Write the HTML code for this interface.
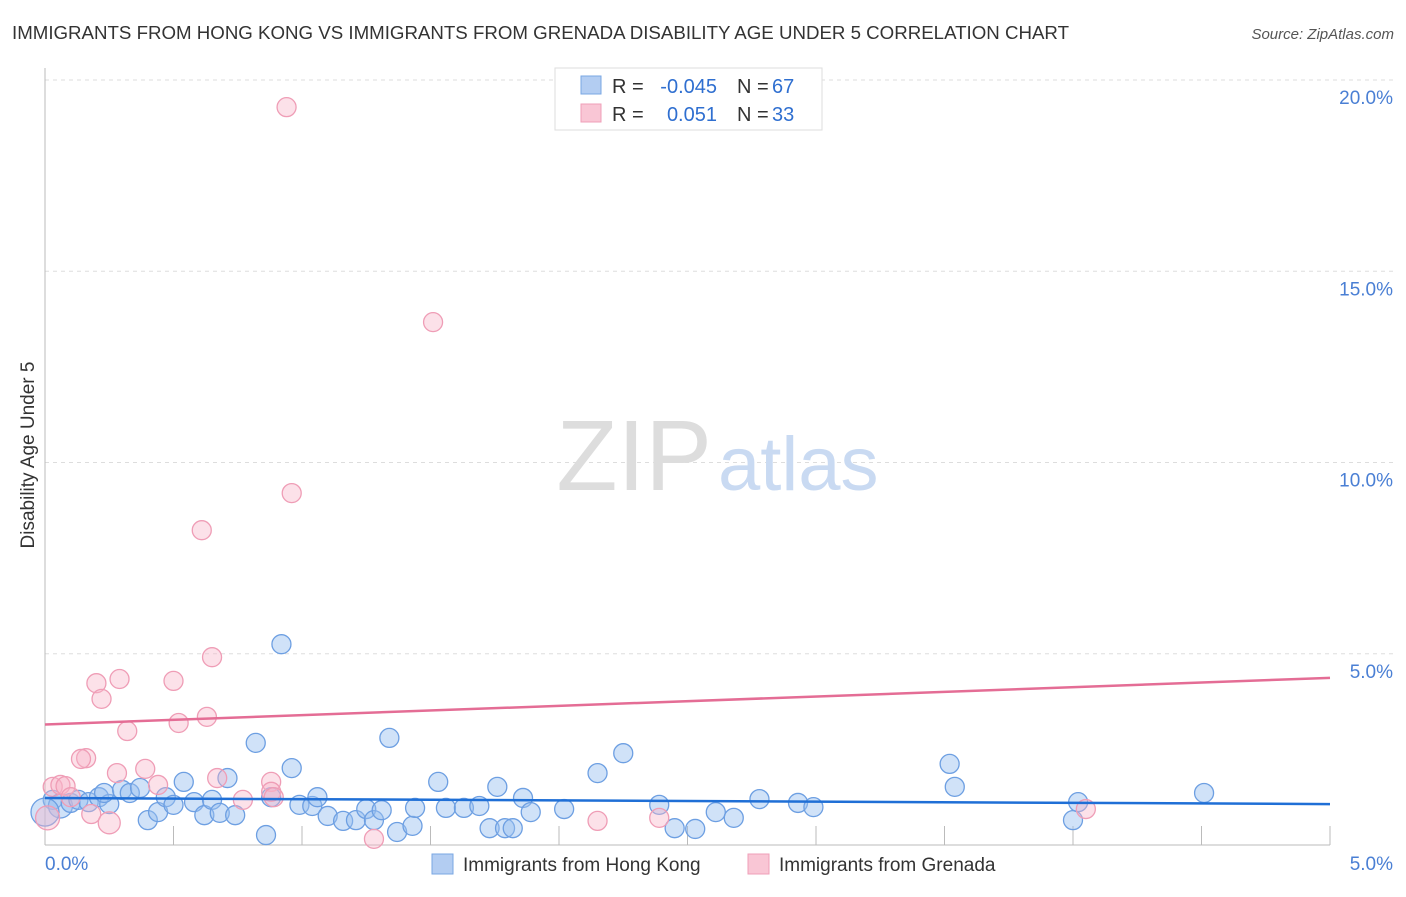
<!DOCTYPE html>
<html><head><meta charset="utf-8"><style>
body{margin:0;background:#fff;font-family:"Liberation Sans",sans-serif;}
svg text{font-family:"Liberation Sans",sans-serif;}
</style></head><body>
<svg width="1406" height="892" xmlns="http://www.w3.org/2000/svg">
<text x="12" y="39" font-size="18.7" fill="#333">IMMIGRANTS FROM HONG KONG VS IMMIGRANTS FROM GRENADA DISABILITY AGE UNDER 5 CORRELATION CHART</text>
<text x="1394" y="39" font-size="15" fill="#555" text-anchor="end" font-style="italic">Source: ZipAtlas.com</text>
<g id="grid"></g>
<text x="712" y="490" font-size="100" fill="#ddd" text-anchor="end" font-family="Liberation Serif">ZIP</text>
<text x="718" y="490" font-size="76" fill="#c9daf2">atlas</text>
<text transform="translate(34,455) rotate(-90)" font-size="19" fill="#333" text-anchor="middle">Disability Age Under 5</text>
<g id="pts"></g>
<g id="lines"></g>
<g>
<rect x="555" y="68" width="267" height="62" fill="#fff" stroke="#ddd"/>
<rect x="581" y="76" width="20" height="18" fill="#b3cdf2" stroke="#7aa7e3"/>
<rect x="581" y="104" width="20" height="18" fill="#f9c6d5" stroke="#ef9fb8"/>
<text x="612" y="93" font-size="20" fill="#333">R =</text>
<text x="717" y="93" font-size="20" fill="#2f6fd0" text-anchor="end">-0.045</text>
<text x="737" y="93" font-size="20" fill="#333">N =</text>
<text x="772" y="93" font-size="20" fill="#2f6fd0">67</text>
<text x="612" y="121" font-size="20" fill="#333">R =</text>
<text x="717" y="121" font-size="20" fill="#2f6fd0" text-anchor="end">0.051</text>
<text x="737" y="121" font-size="20" fill="#333">N =</text>
<text x="772" y="121" font-size="20" fill="#2f6fd0">33</text>
</g>
<g>
<rect x="432" y="854" width="21" height="20" fill="#b3cdf2" stroke="#7aa7e3"/>
<text x="463" y="871" font-size="19" fill="#333">Immigrants from Hong Kong</text>
<rect x="748" y="854" width="21" height="20" fill="#f9c6d5" stroke="#ef9fb8"/>
<text x="779" y="871" font-size="19" fill="#333">Immigrants from Grenada</text>
</g>
</svg>
<script>
const xTicks=[0,5];
const yTicks=[5,10,15,20];
const blueX=[0.03,0.06,0.10,0.13,0.17,0.21,0.25,0.23,0.30,0.33,0.37,0.40,0.44,0.47,0.50,0.54,0.58,0.62,0.65,0.68,0.71,0.74,0.82,0.86,0.88,0.92,0.96,0.99,1.04,1.06,1.10,1.16,1.21,1.25,1.28,1.31,1.34,1.37,1.43,1.44,1.53,1.56,1.63,1.69,1.73,1.76,1.79,1.82,1.86,1.89,2.02,2.15,2.25,2.39,2.45,2.53,2.61,2.68,2.78,2.93,2.99,3.52,3.54,4.00,4.02,4.51,0.0];
const blueY=[1.18,1.02,1.10,1.18,1.12,1.25,1.07,1.36,1.44,1.36,1.49,0.65,0.86,1.25,1.05,1.65,1.12,0.78,1.18,0.84,1.75,0.78,2.67,0.26,1.25,5.25,2.01,1.05,1.02,1.25,0.76,0.63,0.65,0.94,0.65,0.91,2.80,0.34,0.50,0.97,1.65,0.97,0.97,1.02,0.44,1.52,0.44,0.44,1.23,0.86,0.94,1.88,2.40,1.05,0.44,0.42,0.86,0.71,1.20,1.10,0.99,2.12,1.52,0.65,1.12,1.36,0.86];
const pinkX=[0.94,1.51,0.96,0.61,0.65,0.20,0.29,0.50,0.22,0.63,0.52,0.32,0.16,0.14,0.28,0.39,0.67,0.88,0.44,0.03,0.06,0.08,0.10,0.18,0.25,0.77,0.88,0.89,1.28,2.15,2.39,4.05,0.01];
const pinkY=[19.29,13.67,9.20,8.23,4.91,4.23,4.34,4.29,3.82,3.35,3.19,2.98,2.27,2.25,1.88,1.99,1.75,1.65,1.57,1.52,1.57,1.54,1.25,0.81,0.58,1.18,1.39,1.25,0.16,0.63,0.71,0.94,0.71];
const blueTrend=[1.23,1.07];
const pinkTrend=[3.15,4.37];
const NS='http://www.w3.org/2000/svg';
const X0=45,X1=1330,Y0=845,Y20=80;
const sx=v=>X0+(X1-X0)*v/5;
const sy=v=>Y0-(Y0-Y20)*v/20;
function mk(t,a,p){const e=document.createElementNS(NS,t);for(const k in a)e.setAttribute(k,a[k]);p.appendChild(e);return e;}
const g=document.getElementById('grid');
yTicks.forEach(v=>{
 const l=mk('line',{x1:X0,x2:1393,y1:sy(v),y2:sy(v),stroke:'#ddd','stroke-dasharray':'4,4'},g);
 
 
 const t=mk('text',{x:1393,y:sy(v)+24,'font-size':19,fill:'#4a7fd4','text-anchor':'end'},g);t.textContent=v.toFixed(1)+'%';
 
 
});
mk('line',{x1:X0,x2:X0,y1:68,y2:Y0,stroke:'#bbb'},g);
mk('line',{x1:X0,x2:X1,y1:Y0,y2:Y0,stroke:'#bbb'},g);
for(let i=1;i<=10;i++){mk('line',{x1:sx(i*0.5),x2:sx(i*0.5),y1:826,y2:Y0,stroke:'#bbb'},g);}
xTicks.forEach((v,i)=>{
 const t=mk('text',{x:i?1393:45,y:870,'font-size':19,fill:'#4a7fd4','text-anchor':i?'end':'start'},g);t.textContent=v.toFixed(1)+'%';
 
 
});
const P=document.getElementById('pts');
blueX.forEach((x,i)=>{
 const r=(i===66)?14:(i===1?12:9.5);
 const c=mk('circle',{cx:sx(x),cy:sy(blueY[i]),r:r,fill:'rgba(150,190,240,0.45)',stroke:'#6d9fe2','stroke-width':1.3},P);
 
 
});
pinkX.forEach((x,i)=>{
 const r=(i===32)?12:(i===24?11:9.5);
 const c=mk('circle',{cx:sx(x),cy:sy(pinkY[i]),r:r,fill:'rgba(247,180,200,0.4)',stroke:'#ef9db6','stroke-width':1.3},P);
 
 
});
const L=document.getElementById('lines');
const lp=mk('line',{x1:sx(0),x2:sx(5),y1:sy(pinkTrend[0]),y2:sy(pinkTrend[1]),stroke:'#e46d95','stroke-width':2.5},L);


const lb=mk('line',{x1:sx(0),x2:sx(5),y1:sy(blueTrend[0]),y2:sy(blueTrend[1]),stroke:'#1f6fd6','stroke-width':2.5},L);


</script>
</body></html>
